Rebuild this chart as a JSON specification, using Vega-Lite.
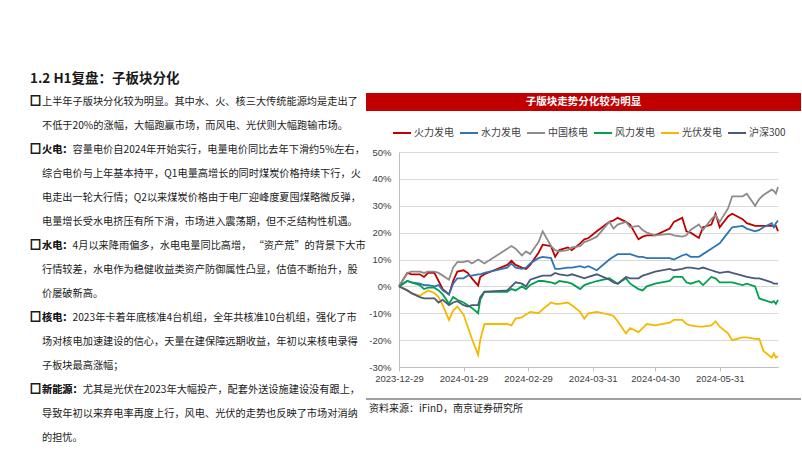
{
"$schema":"https://vega.github.io/schema/vega-lite/v6.json",
"background":"white",
"padding":{"left":30,"top":71,"right":0,"bottom":0},
"config":{"view":{"stroke":null},"font":"Noto Sans CJK SC"},
"title":{"text":"1.2 H1复盘：子板块分化","anchor":"start","fontSize":13.5,"fontWeight":"bold","font":"Noto Sans CJK SC","color":"#1a1a1a","offset":8},
"datasets":{
"lines":[
{"line":0,"bullet":true,"t":"上半年子版块分化较为明显。其中水、火、核三大传统能源均是走出了"},
{"line":1,"t":"不低于20%的涨幅，大幅跑赢市场，而风电、光伏则大幅跑输市场。"},
{"line":2,"bullet":true,"b":"火电：","t":"火电：容量电价自2024年开始实行，电量电价同比去年下滑约5%左右，"},
{"line":3,"t":"综合电价与上年基本持平，Q1电量高增长的同时煤炭价格持续下行，火"},
{"line":4,"t":"电走出一轮大行情；Q2以来煤炭价格由于电厂迎峰度夏囤煤略微反弹，"},
{"line":5,"t":"电量增长受水电挤压有所下滑，市场进入震荡期，但不乏结构性机遇。"},
{"line":6,"bullet":true,"b":"水电：","t":"水电：4月以来降雨偏多，水电电量同比高增， “资产荒”的背景下大市"},
{"line":7,"t":"行情较差，水电作为稳健收益类资产防御属性凸显，估值不断抬升，股"},
{"line":8,"t":"价屡破新高。"},
{"line":9,"bullet":true,"b":"核电：","t":"核电：2023年卡着年底核准4台机组，全年共核准10台机组，强化了市"},
{"line":10,"t":"场对核电加速建设的信心，天量在建保障远期收益，年初以来核电录得"},
{"line":11,"t":"子板块最高涨幅；"},
{"line":12,"bullet":true,"b":"新能源：","t":"新能源：尤其是光伏在2023年大幅投产，配套外送设施建设没有跟上，"},
{"line":13,"t":"导致年初以来弃电率再度上行，风电、光伏的走势也反映了市场对消纳"},
{"line":14,"t":"的担忧。"}
],
"series":[
{"d":"2023-12-29","s":"火力发电","v":0},{"d":"2024-01-02","s":"火力发电","v":0.05},{"d":"2024-01-04","s":"火力发电","v":0.045},{"d":"2024-01-08","s":"火力发电","v":0.045},{"d":"2024-01-10","s":"火力发电","v":0.035},{"d":"2024-01-12","s":"火力发电","v":0.05},{"d":"2024-01-15","s":"火力发电","v":0.05},{"d":"2024-01-17","s":"火力发电","v":0.02},{"d":"2024-01-19","s":"火力发电","v":-0.01},{"d":"2024-01-22","s":"火力发电","v":-0.03},{"d":"2024-01-24","s":"火力发电","v":0.02},{"d":"2024-01-26","s":"火力发电","v":0.055},{"d":"2024-01-29","s":"火力发电","v":0.06},{"d":"2024-01-31","s":"火力发电","v":0.05},{"d":"2024-02-02","s":"火力发电","v":0.03},{"d":"2024-02-05","s":"火力发电","v":0.003},{"d":"2024-02-06","s":"火力发电","v":0.035},{"d":"2024-02-08","s":"火力发电","v":0.045},{"d":"2024-02-19","s":"火力发电","v":0.08},{"d":"2024-02-21","s":"火力发电","v":0.095},{"d":"2024-02-23","s":"火力发电","v":0.08},{"d":"2024-02-26","s":"火力发电","v":0.07},{"d":"2024-02-28","s":"火力发电","v":0.065},{"d":"2024-03-01","s":"火力发电","v":0.08},{"d":"2024-03-05","s":"火力发电","v":0.125},{"d":"2024-03-07","s":"火力发电","v":0.155},{"d":"2024-03-11","s":"火力发电","v":0.15},{"d":"2024-03-13","s":"火力发电","v":0.11},{"d":"2024-03-15","s":"火力发电","v":0.135},{"d":"2024-03-19","s":"火力发电","v":0.145},{"d":"2024-03-21","s":"火力发电","v":0.135},{"d":"2024-03-25","s":"火力发电","v":0.16},{"d":"2024-03-27","s":"火力发电","v":0.175},{"d":"2024-03-29","s":"火力发电","v":0.18},{"d":"2024-04-02","s":"火力发电","v":0.205},{"d":"2024-04-08","s":"火力发电","v":0.24},{"d":"2024-04-10","s":"火力发电","v":0.245},{"d":"2024-04-12","s":"火力发电","v":0.255},{"d":"2024-04-16","s":"火力发电","v":0.24},{"d":"2024-04-18","s":"火力发电","v":0.23},{"d":"2024-04-22","s":"火力发电","v":0.175},{"d":"2024-04-24","s":"火力发电","v":0.185},{"d":"2024-04-26","s":"火力发电","v":0.19},{"d":"2024-04-30","s":"火力发电","v":0.19},{"d":"2024-05-07","s":"火力发电","v":0.215},{"d":"2024-05-09","s":"火力发电","v":0.24},{"d":"2024-05-13","s":"火力发电","v":0.255},{"d":"2024-05-15","s":"火力发电","v":0.205},{"d":"2024-05-17","s":"火力发电","v":0.2},{"d":"2024-05-21","s":"火力发电","v":0.18},{"d":"2024-05-23","s":"火力发电","v":0.22},{"d":"2024-05-27","s":"火力发电","v":0.23},{"d":"2024-05-29","s":"火力发电","v":0.27},{"d":"2024-05-31","s":"火力发电","v":0.22},{"d":"2024-06-04","s":"火力发电","v":0.26},{"d":"2024-06-06","s":"火力发电","v":0.27},{"d":"2024-06-11","s":"火力发电","v":0.25},{"d":"2024-06-13","s":"火力发电","v":0.235},{"d":"2024-06-17","s":"火力发电","v":0.225},{"d":"2024-06-19","s":"火力发电","v":0.225},{"d":"2024-06-21","s":"火力发电","v":0.225},{"d":"2024-06-25","s":"火力发电","v":0.225},{"d":"2024-06-26","s":"火力发电","v":0.225},{"d":"2024-06-27","s":"火力发电","v":0.225},{"d":"2024-06-28","s":"火力发电","v":0.205},
{"d":"2023-12-29","s":"水力发电","v":0},{"d":"2024-01-02","s":"水力发电","v":0.02},{"d":"2024-01-04","s":"水力发电","v":0.015},{"d":"2024-01-08","s":"水力发电","v":0.01},{"d":"2024-01-10","s":"水力发电","v":0.005},{"d":"2024-01-12","s":"水力发电","v":0.005},{"d":"2024-01-15","s":"水力发电","v":0},{"d":"2024-01-17","s":"水力发电","v":0.005},{"d":"2024-01-19","s":"水力发电","v":-0.015},{"d":"2024-01-22","s":"水力发电","v":-0.03},{"d":"2024-01-24","s":"水力发电","v":0.01},{"d":"2024-01-26","s":"水力发电","v":0.03},{"d":"2024-01-29","s":"水力发电","v":0.03},{"d":"2024-01-31","s":"水力发电","v":0.04},{"d":"2024-02-02","s":"水力发电","v":0.04},{"d":"2024-02-05","s":"水力发电","v":0.045},{"d":"2024-02-06","s":"水力发电","v":0.045},{"d":"2024-02-08","s":"水力发电","v":0.05},{"d":"2024-02-19","s":"水力发电","v":0.07},{"d":"2024-02-21","s":"水力发电","v":0.085},{"d":"2024-02-23","s":"水力发电","v":0.07},{"d":"2024-02-26","s":"水力发电","v":0.065},{"d":"2024-02-28","s":"水力发电","v":0.07},{"d":"2024-03-01","s":"水力发电","v":0.085},{"d":"2024-03-05","s":"水力发电","v":0.105},{"d":"2024-03-07","s":"水力发电","v":0.11},{"d":"2024-03-11","s":"水力发电","v":0.105},{"d":"2024-03-13","s":"水力发电","v":0.065},{"d":"2024-03-15","s":"水力发电","v":0.065},{"d":"2024-03-19","s":"水力发电","v":0.07},{"d":"2024-03-21","s":"水力发电","v":0.07},{"d":"2024-03-25","s":"水力发电","v":0.075},{"d":"2024-03-27","s":"水力发电","v":0.07},{"d":"2024-03-29","s":"水力发电","v":0.075},{"d":"2024-04-02","s":"水力发电","v":0.06},{"d":"2024-04-08","s":"水力发电","v":0.1},{"d":"2024-04-10","s":"水力发电","v":0.11},{"d":"2024-04-12","s":"水力发电","v":0.12},{"d":"2024-04-16","s":"水力发电","v":0.12},{"d":"2024-04-18","s":"水力发电","v":0.12},{"d":"2024-04-22","s":"水力发电","v":0.11},{"d":"2024-04-24","s":"水力发电","v":0.11},{"d":"2024-04-26","s":"水力发电","v":0.105},{"d":"2024-04-30","s":"水力发电","v":0.105},{"d":"2024-05-07","s":"水力发电","v":0.105},{"d":"2024-05-09","s":"水力发电","v":0.1},{"d":"2024-05-13","s":"水力发电","v":0.115},{"d":"2024-05-15","s":"水力发电","v":0.12},{"d":"2024-05-17","s":"水力发电","v":0.11},{"d":"2024-05-21","s":"水力发电","v":0.11},{"d":"2024-05-23","s":"水力发电","v":0.12},{"d":"2024-05-27","s":"水力发电","v":0.14},{"d":"2024-05-29","s":"水力发电","v":0.15},{"d":"2024-05-31","s":"水力发电","v":0.16},{"d":"2024-06-04","s":"水力发电","v":0.2},{"d":"2024-06-06","s":"水力发电","v":0.22},{"d":"2024-06-11","s":"水力发电","v":0.225},{"d":"2024-06-13","s":"水力发电","v":0.215},{"d":"2024-06-17","s":"水力发电","v":0.205},{"d":"2024-06-19","s":"水力发电","v":0.21},{"d":"2024-06-21","s":"水力发电","v":0.22},{"d":"2024-06-25","s":"水力发电","v":0.235},{"d":"2024-06-26","s":"水力发电","v":0.22},{"d":"2024-06-27","s":"水力发电","v":0.235},{"d":"2024-06-28","s":"水力发电","v":0.245},
{"d":"2023-12-29","s":"中国核电","v":0},{"d":"2024-01-02","s":"中国核电","v":0.05},{"d":"2024-01-04","s":"中国核电","v":0.055},{"d":"2024-01-08","s":"中国核电","v":0.055},{"d":"2024-01-10","s":"中国核电","v":0.05},{"d":"2024-01-12","s":"中国核电","v":0.055},{"d":"2024-01-15","s":"中国核电","v":0.055},{"d":"2024-01-17","s":"中国核电","v":0.05},{"d":"2024-01-19","s":"中国核电","v":0.04},{"d":"2024-01-22","s":"中国核电","v":0.025},{"d":"2024-01-24","s":"中国核电","v":0.07},{"d":"2024-01-26","s":"中国核电","v":0.09},{"d":"2024-01-29","s":"中国核电","v":0.09},{"d":"2024-01-31","s":"中国核电","v":0.095},{"d":"2024-02-02","s":"中国核电","v":0.085},{"d":"2024-02-05","s":"中国核电","v":0.1},{"d":"2024-02-06","s":"中国核电","v":0.095},{"d":"2024-02-08","s":"中国核电","v":0.085},{"d":"2024-02-19","s":"中国核电","v":0.14},{"d":"2024-02-21","s":"中国核电","v":0.15},{"d":"2024-02-23","s":"中国核电","v":0.14},{"d":"2024-02-26","s":"中国核电","v":0.115},{"d":"2024-02-28","s":"中国核电","v":0.13},{"d":"2024-03-01","s":"中国核电","v":0.12},{"d":"2024-03-05","s":"中国核电","v":0.165},{"d":"2024-03-07","s":"中国核电","v":0.205},{"d":"2024-03-11","s":"中国核电","v":0.15},{"d":"2024-03-13","s":"中国核电","v":0.135},{"d":"2024-03-15","s":"中国核电","v":0.13},{"d":"2024-03-19","s":"中国核电","v":0.135},{"d":"2024-03-21","s":"中国核电","v":0.145},{"d":"2024-03-25","s":"中国核电","v":0.15},{"d":"2024-03-27","s":"中国核电","v":0.165},{"d":"2024-03-29","s":"中国核电","v":0.17},{"d":"2024-04-02","s":"中国核电","v":0.185},{"d":"2024-04-08","s":"中国核电","v":0.24},{"d":"2024-04-10","s":"中国核电","v":0.215},{"d":"2024-04-12","s":"中国核电","v":0.23},{"d":"2024-04-16","s":"中国核电","v":0.24},{"d":"2024-04-18","s":"中国核电","v":0.22},{"d":"2024-04-22","s":"中国核电","v":0.225},{"d":"2024-04-24","s":"中国核电","v":0.21},{"d":"2024-04-26","s":"中国核电","v":0.2},{"d":"2024-04-30","s":"中国核电","v":0.19},{"d":"2024-05-07","s":"中国核电","v":0.195},{"d":"2024-05-09","s":"中国核电","v":0.19},{"d":"2024-05-13","s":"中国核电","v":0.185},{"d":"2024-05-15","s":"中国核电","v":0.19},{"d":"2024-05-17","s":"中国核电","v":0.21},{"d":"2024-05-21","s":"中国核电","v":0.23},{"d":"2024-05-23","s":"中国核电","v":0.21},{"d":"2024-05-27","s":"中国核电","v":0.25},{"d":"2024-05-29","s":"中国核电","v":0.265},{"d":"2024-05-31","s":"中国核电","v":0.24},{"d":"2024-06-04","s":"中国核电","v":0.29},{"d":"2024-06-06","s":"中国核电","v":0.335},{"d":"2024-06-11","s":"中国核电","v":0.335},{"d":"2024-06-13","s":"中国核电","v":0.345},{"d":"2024-06-17","s":"中国核电","v":0.3},{"d":"2024-06-19","s":"中国核电","v":0.325},{"d":"2024-06-21","s":"中国核电","v":0.34},{"d":"2024-06-25","s":"中国核电","v":0.36},{"d":"2024-06-26","s":"中国核电","v":0.355},{"d":"2024-06-27","s":"中国核电","v":0.345},{"d":"2024-06-28","s":"中国核电","v":0.37},
{"d":"2023-12-29","s":"风力发电","v":0},{"d":"2024-01-02","s":"风力发电","v":0.02},{"d":"2024-01-04","s":"风力发电","v":0.015},{"d":"2024-01-08","s":"风力发电","v":0.005},{"d":"2024-01-10","s":"风力发电","v":-0.01},{"d":"2024-01-12","s":"风力发电","v":-0.005},{"d":"2024-01-15","s":"风力发电","v":-0.005},{"d":"2024-01-17","s":"风力发电","v":-0.015},{"d":"2024-01-19","s":"风力发电","v":-0.03},{"d":"2024-01-22","s":"风力发电","v":-0.065},{"d":"2024-01-24","s":"风力发电","v":-0.04},{"d":"2024-01-26","s":"风力发电","v":-0.05},{"d":"2024-01-29","s":"风力发电","v":-0.06},{"d":"2024-01-31","s":"风力发电","v":-0.07},{"d":"2024-02-02","s":"风力发电","v":-0.08},{"d":"2024-02-05","s":"风力发电","v":-0.1},{"d":"2024-02-06","s":"风力发电","v":-0.05},{"d":"2024-02-08","s":"风力发电","v":-0.02},{"d":"2024-02-19","s":"风力发电","v":-0.02},{"d":"2024-02-21","s":"风力发电","v":-0.01},{"d":"2024-02-23","s":"风力发电","v":-0.015},{"d":"2024-02-26","s":"风力发电","v":0},{"d":"2024-02-28","s":"风力发电","v":-0.01},{"d":"2024-03-01","s":"风力发电","v":0.005},{"d":"2024-03-05","s":"风力发电","v":0.02},{"d":"2024-03-07","s":"风力发电","v":0.02},{"d":"2024-03-11","s":"风力发电","v":0.015},{"d":"2024-03-13","s":"风力发电","v":0.01},{"d":"2024-03-15","s":"风力发电","v":0.02},{"d":"2024-03-19","s":"风力发电","v":0.015},{"d":"2024-03-21","s":"风力发电","v":0.01},{"d":"2024-03-25","s":"风力发电","v":-0.01},{"d":"2024-03-27","s":"风力发电","v":0.005},{"d":"2024-03-29","s":"风力发电","v":0.01},{"d":"2024-04-02","s":"风力发电","v":0.02},{"d":"2024-04-08","s":"风力发电","v":0.03},{"d":"2024-04-10","s":"风力发电","v":0.02},{"d":"2024-04-12","s":"风力发电","v":0.01},{"d":"2024-04-16","s":"风力发电","v":0.03},{"d":"2024-04-18","s":"风力发电","v":0.01},{"d":"2024-04-22","s":"风力发电","v":-0.01},{"d":"2024-04-24","s":"风力发电","v":-0.015},{"d":"2024-04-26","s":"风力发电","v":0},{"d":"2024-04-30","s":"风力发电","v":0.01},{"d":"2024-05-07","s":"风力发电","v":0.02},{"d":"2024-05-09","s":"风力发电","v":0.035},{"d":"2024-05-13","s":"风力发电","v":0.035},{"d":"2024-05-15","s":"风力发电","v":0.015},{"d":"2024-05-17","s":"风力发电","v":0.01},{"d":"2024-05-21","s":"风力发电","v":0.02},{"d":"2024-05-23","s":"风力发电","v":0.005},{"d":"2024-05-27","s":"风力发电","v":0.035},{"d":"2024-05-29","s":"风力发电","v":0.03},{"d":"2024-05-31","s":"风力发电","v":0.015},{"d":"2024-06-04","s":"风力发电","v":0.015},{"d":"2024-06-06","s":"风力发电","v":0.015},{"d":"2024-06-11","s":"风力发电","v":0.005},{"d":"2024-06-13","s":"风力发电","v":0.01},{"d":"2024-06-17","s":"风力发电","v":0},{"d":"2024-06-19","s":"风力发电","v":-0.045},{"d":"2024-06-21","s":"风力发电","v":-0.05},{"d":"2024-06-25","s":"风力发电","v":-0.06},{"d":"2024-06-26","s":"风力发电","v":-0.055},{"d":"2024-06-27","s":"风力发电","v":-0.065},{"d":"2024-06-28","s":"风力发电","v":-0.05},
{"d":"2023-12-29","s":"光伏发电","v":0},{"d":"2024-01-02","s":"光伏发电","v":-0.015},{"d":"2024-01-04","s":"光伏发电","v":-0.025},{"d":"2024-01-08","s":"光伏发电","v":-0.035},{"d":"2024-01-10","s":"光伏发电","v":-0.025},{"d":"2024-01-12","s":"光伏发电","v":-0.015},{"d":"2024-01-15","s":"光伏发电","v":-0.025},{"d":"2024-01-17","s":"光伏发电","v":-0.04},{"d":"2024-01-19","s":"光伏发电","v":-0.07},{"d":"2024-01-22","s":"光伏发电","v":-0.125},{"d":"2024-01-24","s":"光伏发电","v":-0.09},{"d":"2024-01-26","s":"光伏发电","v":-0.075},{"d":"2024-01-29","s":"光伏发电","v":-0.105},{"d":"2024-01-31","s":"光伏发电","v":-0.15},{"d":"2024-02-02","s":"光伏发电","v":-0.195},{"d":"2024-02-05","s":"光伏发电","v":-0.255},{"d":"2024-02-06","s":"光伏发电","v":-0.2},{"d":"2024-02-08","s":"光伏发电","v":-0.14},{"d":"2024-02-19","s":"光伏发电","v":-0.14},{"d":"2024-02-21","s":"光伏发电","v":-0.145},{"d":"2024-02-23","s":"光伏发电","v":-0.12},{"d":"2024-02-26","s":"光伏发电","v":-0.115},{"d":"2024-02-28","s":"光伏发电","v":-0.105},{"d":"2024-03-01","s":"光伏发电","v":-0.095},{"d":"2024-03-05","s":"光伏发电","v":-0.1},{"d":"2024-03-07","s":"光伏发电","v":-0.085},{"d":"2024-03-11","s":"光伏发电","v":-0.06},{"d":"2024-03-13","s":"光伏发电","v":-0.065},{"d":"2024-03-15","s":"光伏发电","v":-0.065},{"d":"2024-03-19","s":"光伏发电","v":-0.06},{"d":"2024-03-21","s":"光伏发电","v":-0.07},{"d":"2024-03-25","s":"光伏发电","v":-0.095},{"d":"2024-03-27","s":"光伏发电","v":-0.12},{"d":"2024-03-29","s":"光伏发电","v":-0.1},{"d":"2024-04-02","s":"光伏发电","v":-0.095},{"d":"2024-04-08","s":"光伏发电","v":-0.105},{"d":"2024-04-10","s":"光伏发电","v":-0.11},{"d":"2024-04-12","s":"光伏发电","v":-0.13},{"d":"2024-04-16","s":"光伏发电","v":-0.175},{"d":"2024-04-18","s":"光伏发电","v":-0.155},{"d":"2024-04-22","s":"光伏发电","v":-0.17},{"d":"2024-04-24","s":"光伏发电","v":-0.155},{"d":"2024-04-26","s":"光伏发电","v":-0.14},{"d":"2024-04-30","s":"光伏发电","v":-0.145},{"d":"2024-05-07","s":"光伏发电","v":-0.135},{"d":"2024-05-09","s":"光伏发电","v":-0.125},{"d":"2024-05-13","s":"光伏发电","v":-0.125},{"d":"2024-05-15","s":"光伏发电","v":-0.14},{"d":"2024-05-17","s":"光伏发电","v":-0.145},{"d":"2024-05-21","s":"光伏发电","v":-0.15},{"d":"2024-05-23","s":"光伏发电","v":-0.15},{"d":"2024-05-27","s":"光伏发电","v":-0.145},{"d":"2024-05-29","s":"光伏发电","v":-0.13},{"d":"2024-05-31","s":"光伏发电","v":-0.15},{"d":"2024-06-04","s":"光伏发电","v":-0.175},{"d":"2024-06-06","s":"光伏发电","v":-0.2},{"d":"2024-06-11","s":"光伏发电","v":-0.19},{"d":"2024-06-13","s":"光伏发电","v":-0.19},{"d":"2024-06-17","s":"光伏发电","v":-0.195},{"d":"2024-06-19","s":"光伏发电","v":-0.195},{"d":"2024-06-21","s":"光伏发电","v":-0.24},{"d":"2024-06-25","s":"光伏发电","v":-0.265},{"d":"2024-06-26","s":"光伏发电","v":-0.25},{"d":"2024-06-27","s":"光伏发电","v":-0.265},{"d":"2024-06-28","s":"光伏发电","v":-0.26},
{"d":"2023-12-29","s":"沪深300","v":0},{"d":"2024-01-02","s":"沪深300","v":-0.015},{"d":"2024-01-04","s":"沪深300","v":-0.025},{"d":"2024-01-08","s":"沪深300","v":-0.04},{"d":"2024-01-10","s":"沪深300","v":-0.045},{"d":"2024-01-12","s":"沪深300","v":-0.045},{"d":"2024-01-15","s":"沪深300","v":-0.045},{"d":"2024-01-17","s":"沪深300","v":-0.06},{"d":"2024-01-19","s":"沪深300","v":-0.05},{"d":"2024-01-22","s":"沪深300","v":-0.07},{"d":"2024-01-24","s":"沪深300","v":-0.06},{"d":"2024-01-26","s":"沪深300","v":-0.055},{"d":"2024-01-29","s":"沪深300","v":-0.07},{"d":"2024-01-31","s":"沪深300","v":-0.075},{"d":"2024-02-02","s":"沪深300","v":-0.07},{"d":"2024-02-05","s":"沪深300","v":-0.07},{"d":"2024-02-06","s":"沪深300","v":-0.04},{"d":"2024-02-08","s":"沪深300","v":-0.02},{"d":"2024-02-19","s":"沪深300","v":-0.015},{"d":"2024-02-21","s":"沪深300","v":0},{"d":"2024-02-23","s":"沪深300","v":0.015},{"d":"2024-02-26","s":"沪深300","v":0.01},{"d":"2024-02-28","s":"沪深300","v":0},{"d":"2024-03-01","s":"沪深300","v":0.025},{"d":"2024-03-05","s":"沪深300","v":0.035},{"d":"2024-03-07","s":"沪深300","v":0.04},{"d":"2024-03-11","s":"沪深300","v":0.04},{"d":"2024-03-13","s":"沪深300","v":0.05},{"d":"2024-03-15","s":"沪深300","v":0.045},{"d":"2024-03-19","s":"沪深300","v":0.04},{"d":"2024-03-21","s":"沪深300","v":0.045},{"d":"2024-03-25","s":"沪深300","v":0.035},{"d":"2024-03-27","s":"沪深300","v":0.03},{"d":"2024-03-29","s":"沪深300","v":0.035},{"d":"2024-04-02","s":"沪深300","v":0.045},{"d":"2024-04-08","s":"沪深300","v":0.025},{"d":"2024-04-10","s":"沪深300","v":0.015},{"d":"2024-04-12","s":"沪深300","v":0.01},{"d":"2024-04-16","s":"沪深300","v":0.035},{"d":"2024-04-18","s":"沪深300","v":0.03},{"d":"2024-04-22","s":"沪深300","v":0.03},{"d":"2024-04-24","s":"沪深300","v":0.04},{"d":"2024-04-26","s":"沪深300","v":0.045},{"d":"2024-04-30","s":"沪深300","v":0.055},{"d":"2024-05-07","s":"沪深300","v":0.065},{"d":"2024-05-09","s":"沪深300","v":0.06},{"d":"2024-05-13","s":"沪深300","v":0.065},{"d":"2024-05-15","s":"沪深300","v":0.07},{"d":"2024-05-17","s":"沪深300","v":0.07},{"d":"2024-05-21","s":"沪深300","v":0.065},{"d":"2024-05-23","s":"沪深300","v":0.07},{"d":"2024-05-27","s":"沪深300","v":0.06},{"d":"2024-05-29","s":"沪深300","v":0.055},{"d":"2024-05-31","s":"沪深300","v":0.05},{"d":"2024-06-04","s":"沪深300","v":0.055},{"d":"2024-06-06","s":"沪深300","v":0.05},{"d":"2024-06-11","s":"沪深300","v":0.04},{"d":"2024-06-13","s":"沪深300","v":0.035},{"d":"2024-06-17","s":"沪深300","v":0.03},{"d":"2024-06-19","s":"沪深300","v":0.03},{"d":"2024-06-21","s":"沪深300","v":0.025},{"d":"2024-06-25","s":"沪深300","v":0.015},{"d":"2024-06-26","s":"沪深300","v":0.01},{"d":"2024-06-27","s":"沪深300","v":0.01},{"d":"2024-06-28","s":"沪深300","v":0.01}
]
},
"columns":2,
"align":"none",
"bounds":"flush",
"spacing":{"row":32,"column":0},
"resolve":{"legend":{"color":"independent"}},
"concat":[
{
"width":335,"height":27,
"data":{"name":"lines"},
"encoding":{
"x":{"datum":0,"type":"quantitative","scale":{"domain":[0,1],"nice":false,"zero":false},"axis":null},
"y":{"field":"line","type":"quantitative","scale":{"domain":[-0.375,0.75],"reverse":true,"nice":false,"zero":false},"axis":null}
},
"layer":[
{"mark":{"type":"text","align":"left","baseline":"middle","dx":11,"fontSize":10.2,"font":"Noto Sans CJK SC","color":"#1a1a1a"},"encoding":{"text":{"field":"t"}}},
{"transform":[{"filter":"datum.b"}],"mark":{"type":"text","align":"left","baseline":"middle","dx":11,"fontSize":10.2,"font":"Noto Sans CJK SC","fontWeight":"bold","color":"#1a1a1a"},"encoding":{"text":{"field":"b"}}},
{"transform":[{"filter":"datum.bullet"}],"mark":{"type":"text","align":"left","baseline":"middle","dx":-1,"fontSize":11,"font":"Noto Sans CJK SC","fontWeight":"bold","color":"#1a1a1a","stroke":"#1a1a1a","strokeWidth":0.9,"text":"□"}}
]
},
{
"width":435,"height":27,
"data":{"values":[{"label":"子版块走势分化较为明显"}]},
"layer":[
{"mark":{"type":"rect","color":"#c00000"},"encoding":{"y":{"datum":1,"type":"quantitative","scale":{"domain":[0,1],"nice":false,"zero":false},"axis":null},"y2":{"datum":0.3333}}},
{"mark":{"type":"text","color":"white","fontWeight":"bold","fontSize":10.5,"font":"Noto Sans CJK SC","baseline":"middle","align":"center"},"encoding":{"y":{"datum":0.6667,"type":"quantitative","axis":null},"text":{"field":"label"}}}
]
},
{"width":335,"height":215,"data":{"values":[]},"mark":"point"},
{
"width":412,"height":215,
"data":{"name":"series"},
"mark":{"type":"line","strokeWidth":1.8,"interpolate":"linear"},
"encoding":{
"x":{"field":"d","type":"temporal",
"scale":{"type":"utc","domain":[{"year":2023,"month":12,"date":29,"utc":true},{"year":2024,"month":6,"date":28,"utc":true}],"range":[33,412],"nice":false},
"axis":{"values":[{"year":2023,"month":12,"date":29,"utc":true},{"year":2024,"month":1,"date":29,"utc":true},{"year":2024,"month":2,"date":29,"utc":true},{"year":2024,"month":3,"date":31,"utc":true},{"year":2024,"month":4,"date":30,"utc":true},{"year":2024,"month":5,"date":31,"utc":true}],
"labelExpr":"utcFormat(datum.value, '%Y-%m-%d')","title":null,"grid":false,"domainColor":"#bfbfbf","tickColor":"#bfbfbf","tickSize":4,"labelFont":"Liberation Sans","labelFontSize":9.5,"labelColor":"#404040","labelPadding":2,"labelOverlap":false,"labelFlush":false}},
"y":{"field":"v","type":"quantitative","scale":{"domain":[-0.3,0.5],"nice":false,"zero":false},
"axis":{"values":[-0.3,-0.2,-0.1,0,0.1,0.2,0.3,0.4,0.5],"labelExpr":"round(datum.value*100) + '%'","title":null,"offset":-33,"grid":true,"gridColor":"#d9d9d9","gridWidth":1,"domainColor":"#bfbfbf","ticks":false,"labelPadding":8,"labelFont":"Liberation Sans","labelFontSize":9.5,"labelColor":"#404040"}},
"color":{"field":"s","type":"nominal",
"scale":{"domain":["火力发电","水力发电","中国核电","风力发电","光伏发电","沪深300"],"range":["#c00000","#2e75b6","#8c8c8c","#00a050","#f5b800","#4a5a7a"]},
"legend":{"orient":"none","legendX":26,"legendY":-29,"padding":0,"direction":"horizontal","title":null,"symbolType":"stroke","symbolStrokeWidth":2,"symbolSize":324,"labelFont":"Noto Sans CJK SC","labelFontSize":10,"labelColor":"#404040","labelOffset":2,"columnPadding":2}}
}
},
{"width":335,"height":22,"data":{"values":[]},"mark":"point"},
{
"width":435,"height":22,
"data":{"values":[{"src":"资料来源：iFinD，南京证券研究所"}]},
"layer":[
{"mark":{"type":"rule","color":"#404040","strokeWidth":1},"encoding":{"y":{"datum":1,"type":"quantitative","scale":{"domain":[0,1],"nice":false,"zero":false},"axis":null}}},
{"mark":{"type":"text","align":"left","baseline":"middle","dx":3,"fontSize":10,"font":"Noto Sans CJK SC","color":"#1a1a1a"},"encoding":{"x":{"datum":0,"type":"quantitative","scale":{"domain":[0,1],"nice":false,"zero":false},"axis":null},"y":{"datum":0.55,"type":"quantitative","axis":null},"text":{"field":"src"}}}
]
}
]
}
